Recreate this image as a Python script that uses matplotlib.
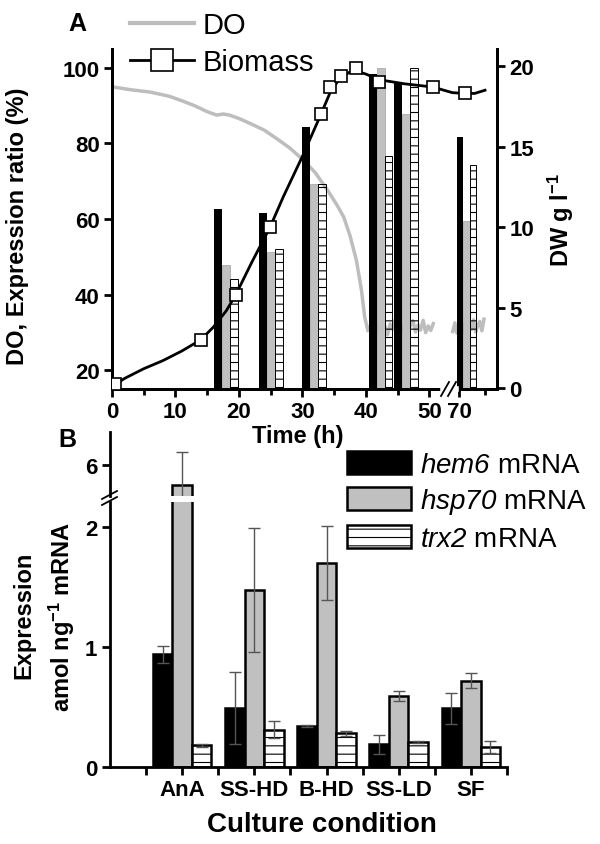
import numpy as np
import matplotlib
matplotlib.use('Agg')
import matplotlib.pyplot as plt
from matplotlib.lines import Line2D
from matplotlib.patches import Patch

plt.rcParams['font.family'] = ['Liberation Sans', 'DejaVu Sans']
plt.rcParams['font.weight'] = 'bold'
plt.rcParams['axes.labelweight'] = 'bold'
plt.rcParams['mathtext.fontset'] = 'custom'
plt.rcParams['mathtext.it'] = 'Liberation Sans:style=italic:weight=normal'
# digits inside \mathit fall back to the rm font, so make it italic as well
plt.rcParams['mathtext.rm'] = 'Liberation Sans:style=italic:weight=normal'
plt.rcParams['mathtext.bf'] = 'Liberation Sans:bold'
plt.rcParams['mathtext.default'] = 'regular'
plt.rcParams['hatch.linewidth'] = 0.8
plt.rcParams['axes.linewidth'] = 2

# ---- panel A data ----
# dissolved oxygen (%)
do_t1 = [0, 3, 6, 9, 11, 13, 15, 16.5, 17.5, 18.5, 20, 22, 24, 26, 28, 30, 32, 34,
         35.5, 36.5, 37.5, 38.5, 39.3, 39.8, 40.3]
do_v1 = [95, 94.2, 93.6, 92.5, 91.3, 90, 88.4, 87.5, 87.8, 87.5, 86.6, 85.1, 83.5,
         81.2, 78.8, 75.8, 72.3, 67.5, 63.5, 60.5, 55.5, 49, 41, 34, 30.5]
do_t2 = [40.6, 41.0, 41.4, 41.8, 42.2, 42.6, 43.0, 43.4, 43.8, 44.2, 44.6, 45.0, 45.4,
         45.8, 46.2, 46.6, 47.0, 47.4, 47.8, 48.2, 48.6, 49.0, 49.4, 49.8, 50.2, 50.6]
do_v2 = [31.5, 29.6, 32.4, 30.2, 33.0, 30.0, 31.6, 29.4, 32.2, 30.8, 33.4, 29.8, 31.4,
         30.3, 32.8, 29.7, 31.9, 33.1, 30.1, 32.0, 30.6, 33.2, 29.9, 31.7, 30.5, 32.3]
do_t3 = [68.8, 69.2, 69.6, 70.0, 70.4, 70.8, 71.2, 71.6, 72.0, 72.4, 72.8, 73.2, 73.6,
         74.0, 74.4, 74.8]
do_v3 = [30.2, 32.5, 29.8, 31.4, 33.0, 30.0, 31.9, 29.6, 32.6, 30.7, 33.3, 30.1, 31.8,
         32.9, 30.4, 33.5]

# biomass (DW g/l)
bio_t = [0.5, 14.0, 19.5, 24.9, 32.9, 34.4, 36.0, 38.4, 42.1, 50.5, 71.1]
bio_dw = [0.25, 3.0, 5.8, 10.0, 17.0, 18.7, 19.4, 19.85, 19.0, 18.7, 18.3]
fit_t = [0, 2, 5, 8, 11, 14, 16, 18, 19.5, 22, 24.9, 27, 30, 32.9, 34.4, 36, 38, 40,
         42.1, 46, 50.5, 68.7, 71, 73, 75]
fit_dw = [0.1, 0.6, 1.2, 1.7, 2.3, 3.0, 3.8, 4.8, 5.8, 7.8, 10.0, 11.9, 14.4, 17.0,
          18.4, 19.3, 19.75, 19.5, 19.15, 18.9, 18.7, 18.35, 18.3, 18.3, 18.5]

# relative expression (%) at sampling times
bar_t = [18.0, 25.1, 31.8, 42.3, 46.3, 71.4]
hem6_a = [62.7, 61.6, 84.4, 98.5, 96.0, 81.7]
hsp70_a = [47.9, 51.2, 69.2, 99.9, 87.9, 59.6]
trx2_a = [44.1, 52.1, 69.2, 76.7, 100.0, 74.2]

# ---- panel B data ----
conds = ['AnA', 'SS-HD', 'B-HD', 'SS-LD', 'SF']
hem6_b = [0.94, 0.49, 0.34, 0.19, 0.49]
hem6_err = [0.07, 0.30, 0.01, 0.08, 0.13]
hsp70_b = [5.35, 1.475, 1.70, 0.59, 0.72]
hsp70_err = [1.07, 0.52, 0.31, 0.04, 0.06]
trx2_b = [0.18, 0.31, 0.28, 0.21, 0.17]
trx2_err = [0.015, 0.07, 0.02, 0.01, 0.05]

GRAY = '#c0c0c0'
DO_GRAY = '#bdbdbd'


# broken time axis: 0-50 h normal, 50-70 h squeezed, after 70 h a bit compressed
def fwd(t):
    t = np.asarray(t, float)
    return np.where(t <= 53, t,
                    np.where(t < 68.6, 53 + (t - 53) * 0.5 / 15.6, 53.5 + (t - 68.6) * 0.82))


def inv(x):
    x = np.asarray(x, float)
    return np.where(x <= 53, x,
                    np.where(x < 53.5, 53 + (x - 53) * 15.6 / 0.5, 68.6 + (x - 53.5) / 0.82))


fig = plt.figure(figsize=(6, 8.45), dpi=100)

# ================= panel A =================
ax = fig.add_axes([112/600, 1-390/845, 385/600, 340/845])
ax.set_xscale('function', functions=(fwd, inv))
for tt, vv in [(do_t1, do_v1), (do_t2, do_v2), (do_t3, do_v3)]:
    ax.plot(tt, vv, color=DO_GRAY, lw=2.5, zorder=1)

w = 1.25
bt = np.array(bar_t)
ax.bar(bt - w, hem6_a, width=w, color='black', zorder=2)
ax.bar(bt, hsp70_a, width=w, color=GRAY, edgecolor='#a0a0a0', lw=0.5, zorder=2)
ax.bar(bt + w, trx2_a, width=w, facecolor='none', edgecolor='black', hatch='--',
       lw=0.7, zorder=2)

ax.set_xlim(0, 77.3)
ax.set_ylim(15, 105)
ax.set_xticks([0, 10, 20, 30, 40, 50, 70])
ax.set_xticks([5, 15, 25, 35, 45, 75], minor=True)
ax.set_yticks([20, 40, 60, 80, 100])
ax.spines['top'].set_visible(False)
ax.tick_params(which='major', length=6, width=2, labelsize=16, pad=3)
ax.tick_params(which='minor', length=4, width=2)
ax.set_ylabel('DO, Expression ratio (%)', fontsize=17)
ax.yaxis.set_label_coords(-0.215, 0.48)

ax2 = ax.twinx()
ax2.plot(fit_t, fit_dw, color='black', lw=2, zorder=3)
ax2.plot(bio_t, bio_dw, 's', ms=9, mfc='white', mec='black', mew=1.2, zorder=4)
ax2.set_ylim(-0.06, 21.06)
ax2.set_yticks([0, 5, 10, 15, 20])
ax2.spines['top'].set_visible(False)
ax2.tick_params(which='major', length=6, width=2, labelsize=16, pad=3)
ax2.set_ylabel('DW g l$^{-1}$', fontsize=17, labelpad=8)

# x-axis break
fig.add_artist(Line2D([443/600, 456/600], [1-390/845, 1-390/845], color='white', lw=4,
                      transform=fig.transFigure))
for x0 in (441, 448):
    fig.add_artist(Line2D([x0/600, (x0+8)/600], [1-397/845, 1-383/845], color='black',
                          lw=1.3, transform=fig.transFigure))

fig.text(298/600, 1-437/845, 'Time (h)', fontsize=17, ha='center', va='center')
fig.text(77/600, 1-24/845, 'A', fontsize=18, ha='center', va='center')

hA = [Line2D([], [], color=DO_GRAY, lw=3),
      Line2D([], [], color='black', lw=2, marker='s', ms=16, mfc='white', mec='black', mew=1.2)]
fig.legend(hA, ['DO', 'Biomass'], loc='upper left', bbox_to_anchor=(130/600, 1-12/845),
           frameon=False, prop={'size': 21, 'weight': 'normal'}, handlelength=2.2,
           handletextpad=0.3, labelspacing=0.3, borderpad=0, borderaxespad=0)

# ================= panel B =================
axl = fig.add_axes([110/600, 1-768/845, 397/600, (768-503)/845])
axu = fig.add_axes([110/600, 1-497/845, 397/600, (497-433)/845], sharex=axl)

x = np.arange(1, len(conds) + 1)
bw = 0.27
ekw = dict(ecolor='#555555', elinewidth=1, capsize=4, capthick=1)
for a in (axl, axu):
    a.bar(x - bw, hem6_b, bw, yerr=hem6_err, color='black', edgecolor='black', lw=1.8,
          error_kw=ekw)
    a.bar(x, hsp70_b, bw, yerr=hsp70_err, color=GRAY, edgecolor='black', lw=1.8,
          error_kw=ekw)
    a.bar(x + bw, trx2_b, bw, yerr=trx2_err, color='white', edgecolor='black', lw=1.8,
          hatch='--', error_kw=ekw)
    a.spines['top'].set_visible(False)
    a.spines['right'].set_visible(False)
    a.tick_params(which='both', length=6, width=2, labelsize=16, pad=3)

axl.set_xlim(0, 5.5)
axl.set_ylim(0, 2.21)
axl.set_yticks([0, 1, 2])
axl.set_xticks(x)
axl.set_xticklabels(conds)
axl.set_xticks(np.arange(0.5, 5.6, 1), minor=True)

axu.set_ylim(5.0, 7.06)
axu.set_yticks([6])
axu.spines['bottom'].set_visible(False)
axu.tick_params(axis='x', which='both', bottom=False, labelbottom=False)

for y0 in (500, 506):
    fig.add_artist(Line2D([102/600, 117/600], [1-y0/845, 1-(y0-8)/845], color='black',
                          lw=1.3, transform=fig.transFigure))

fig.text(67/600, 1-440/845, 'B', fontsize=18, ha='center', va='center')
fig.text(24/600, 1-615/845, 'Expression', rotation=90, fontsize=17, ha='center', va='center')
fig.text(62/600, 1-617/845, 'amol ng$^{-1}$ mRNA', rotation=90, fontsize=17,
         ha='center', va='center')
fig.text(322/600, 1-825/845, 'Culture condition', fontsize=20, ha='center', va='center')

hB = [Patch(facecolor='black', edgecolor='black', lw=1.8),
      Patch(facecolor=GRAY, edgecolor='black', lw=1.8),
      Patch(facecolor='white', edgecolor='black', lw=1.8, hatch='--')]
fig.legend(hB, [r'$\mathit{hem6}$ mRNA', r'$\mathit{hsp70}$ mRNA', r'$\mathit{trx2}$ mRNA'],
           loc='upper left', bbox_to_anchor=(347/600, 1-452/845), frameon=False,
           prop={'size': 20, 'weight': 'normal'}, handlelength=2.3, handleheight=0.9,
           handletextpad=0.32, labelspacing=0.3, borderpad=0, borderaxespad=0)

fig.savefig('out.png', dpi=100)
